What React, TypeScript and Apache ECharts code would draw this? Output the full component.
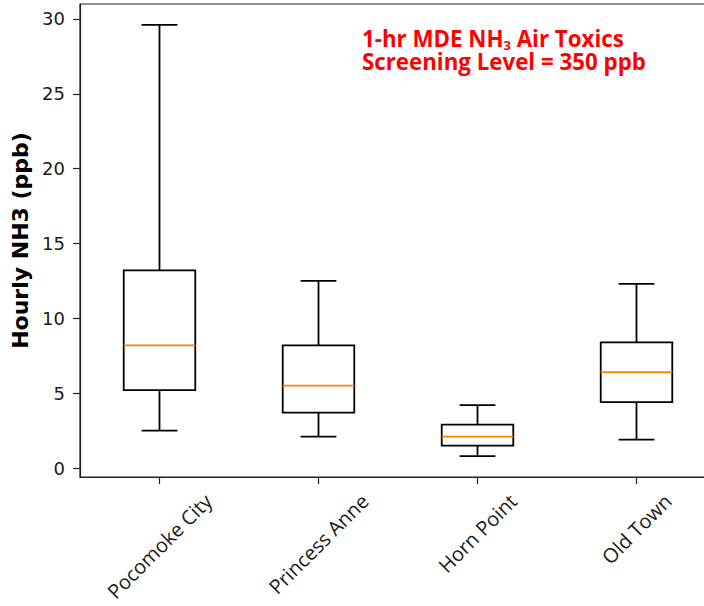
import React, { useEffect, useRef } from 'react';
import * as echarts from 'echarts';

const categories = ['Pocomoke City', 'Princess Anne', 'Horn Point', 'Old Town'];
const whiskerLow = [2.5, 2.1, 0.8, 1.9];
const q1 = [5.2, 3.7, 1.5, 4.4];
const medianVals = [8.2, 5.5, 2.1, 6.4];
const q3 = [13.2, 8.2, 2.9, 8.4];
const whiskerHigh = [29.6, 12.5, 4.2, 12.3];
const yTicks = [0, 5, 10, 15, 20, 25, 30];

const TICK_FONT = '"DejaVu Sans", sans-serif';
const XLABEL_FONT = '"Open Sans"';
const XLABEL_SIZE = 20;
const NOTE_LINE1 = ['1-hr MDE NH', '3', ' Air Toxics'];
const NOTE_LINE2 = 'Screening Level = 350 ppb';

export default function App() {
  const ref = useRef<HTMLDivElement>(null);
  useEffect(() => {
    const chart = echarts.init(ref.current!, null, { renderer: 'svg' });

    const cv = document.createElement('canvas').getContext('2d')!;
    cv.font = `${XLABEL_SIZE}px "Open Sans"`;
    const rich: Record<string, any> = {};
    categories.forEach((c, k) => {
      const w = cv.measureText(c).width;
      const p = (w + 27) / 2;
      rich['l' + k] = {
        fontFamily: XLABEL_FONT,
        fontSize: XLABEL_SIZE,
        color: '#1a1a1a',
        padding: [p, p, 0, 0],
      };
    });

    cv.font = 'bold 100px "Open Sans"';
    const noteSize = Math.min(24, (284 / cv.measureText(NOTE_LINE2).width) * 100);

    const data = categories.map((_, i) => [i, whiskerLow[i], q1[i], medianVals[i], q3[i], whiskerHigh[i]]);

    const option: any = {
      animation: false,
      backgroundColor: '#ffffff',
      grid: {
        left: 80,
        top: 4,
        width: 636,
        height: 473,
        show: true,
        borderColor: '#222',
        borderWidth: 1.2,
        backgroundColor: 'transparent',
        containLabel: false,
        outerBoundsMode: 'none',
      },
      xAxis: {
        type: 'category',
        data: categories,
        boundaryGap: true,
        axisLine: { show: true, onZero: false, lineStyle: { color: '#222', width: 1.2 } },
        axisTick: { show: true, alignWithLabel: true, length: 7, lineStyle: { color: '#222', width: 1.2 } },
        splitLine: { show: false },
        axisLabel: {
          interval: 0,
          rotate: 45,
          margin: 11,
          align: 'center',
          verticalAlign: 'middle',
          formatter: (v: string, idx: number) => `{l${idx}|${v}}`,
          rich,
        },
      },
      yAxis: {
        type: 'value',
        min: -0.6,
        max: 31,
        name: 'Hourly NH3 (ppb)',
        nameLocation: 'middle',
        nameRotate: 90,
        nameGap: 43,
        nameTextStyle: {
          fontFamily: TICK_FONT,
          fontWeight: 'bold',
          fontSize: 22,
          color: '#000',
        },
        axisLine: { show: true, onZero: false, lineStyle: { color: '#222', width: 1.2 } },
        axisTick: { show: true, length: 7, customValues: yTicks, lineStyle: { color: '#222', width: 1.2 } },
        axisLabel: {
          customValues: yTicks,
          margin: 15,
          fontFamily: TICK_FONT,
          fontSize: 18,
          color: '#1a1a1a',
        },
        splitLine: { show: false },
      },
      graphic: [
        {
          type: 'text',
          left: 362,
          top: 26,
          style: {
            text: `{n|${NOTE_LINE1[0]}}{s|${NOTE_LINE1[1]}}{n|${NOTE_LINE1[2]}}\n{n|${NOTE_LINE2}}`,
            rich: {
              n: { fontFamily: 'Open Sans', fontWeight: 'bold', fontSize: noteSize, lineHeight: 23, fill: '#ff0000', color: '#ff0000' },
              s: { fontFamily: 'Open Sans', fontWeight: 'bold', fontSize: 13, lineHeight: 11, padding: [12, 0, 0, 0], fill: '#ff0000', color: '#ff0000' },
            },
            fill: '#ff0000',
          },
        },
      ],
      series: [
        {
          type: 'custom',
          data,
          encode: { x: 0, y: [1, 2, 3, 4, 5] },
          renderItem: (params: any, api: any) => {
            const idx = api.value(0);
            const pLo = api.coord([idx, api.value(1)]);
            const pQ1 = api.coord([idx, api.value(2)]);
            const pMed = api.coord([idx, api.value(3)]);
            const pQ3 = api.coord([idx, api.value(4)]);
            const pHi = api.coord([idx, api.value(5)]);
            const cx = pLo[0];
            const band = api.size([1, 0])[0];
            const bw = band * 0.45;
            const cw = bw / 2;
            const st = { stroke: '#000', lineWidth: 1.8, fill: 'none' };
            return {
              type: 'group',
              children: [
                { type: 'rect', shape: { x: cx - bw / 2, y: pQ3[1], width: bw, height: pQ1[1] - pQ3[1] }, style: st },
                { type: 'line', shape: { x1: cx, y1: pQ1[1], x2: cx, y2: pLo[1] }, style: st },
                { type: 'line', shape: { x1: cx - cw / 2, y1: pLo[1], x2: cx + cw / 2, y2: pLo[1] }, style: st },
                { type: 'line', shape: { x1: cx, y1: pQ3[1], x2: cx, y2: pHi[1] }, style: st },
                { type: 'line', shape: { x1: cx - cw / 2, y1: pHi[1], x2: cx + cw / 2, y2: pHi[1] }, style: st },
                { type: 'line', shape: { x1: cx - bw / 2, y1: pMed[1], x2: cx + bw / 2, y2: pMed[1] }, style: { stroke: '#ff7f0e', lineWidth: 1.7 } },
              ],
            };
          },
        },
      ],
    };
    chart.setOption(option);
    return () => chart.dispose();
  }, []);
  return <div ref={ref} style={{ position: 'fixed', left: 0, top: 0, width: 704, height: 606 }} />;
}
